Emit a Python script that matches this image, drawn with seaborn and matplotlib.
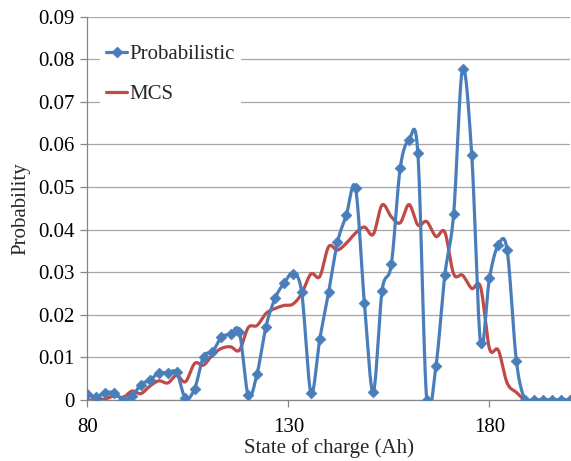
import numpy as np
import pandas as pd
import matplotlib
matplotlib.use("Agg")
import matplotlib.pyplot as plt
import seaborn as sns
from matplotlib.lines import Line2D

# ---- data ----
soc = [80.0, 82.2, 84.4, 86.7, 88.9, 91.1, 93.3, 95.6, 97.8, 100.0,
       102.2, 104.4, 106.7, 108.9, 111.1, 113.3, 115.6, 117.8, 120.0, 122.2,
       124.4, 126.7, 128.9, 131.1, 133.3, 135.6, 137.8, 140.0, 142.2, 144.4,
       146.7, 148.9, 151.1, 153.3, 155.6, 157.8, 160.0, 162.2, 164.4, 166.7,
       168.9, 171.1, 173.3, 175.6, 177.8, 180.0, 182.2, 184.4, 186.7, 188.9,
       191.1, 193.3, 195.6, 197.8, 200.0]
prob_probabilistic = [0.0013, 0.0008, 0.0017, 0.0017, 0.0001, 0.0009, 0.0036, 0.0047, 0.0064, 0.0063,
                      0.0065, 0.0004, 0.0027, 0.0102, 0.0113, 0.0147, 0.0155, 0.0160, 0.0011, 0.0061,
                      0.0172, 0.0239, 0.0274, 0.0296, 0.0253, 0.0017, 0.0143, 0.0253, 0.0370, 0.0434,
                      0.0497, 0.0227, 0.0019, 0.0257, 0.0319, 0.0544, 0.0610, 0.0579, 0.0000, 0.0080,
                      0.0293, 0.0437, 0.0777, 0.0575, 0.0133, 0.0286, 0.0364, 0.0352, 0.0092, 0.0,
                      0.0, 0.0, 0.0, 0.0, 0.0]
prob_mcs = [0.0, 0.0, 0.0002, 0.0010, 0.0006, 0.0021, 0.0015, 0.0033, 0.0045, 0.0040,
            0.0058, 0.0043, 0.0086, 0.0082, 0.0106, 0.0121, 0.0125, 0.0117, 0.0170, 0.0175,
            0.0203, 0.0215, 0.0222, 0.0225, 0.0250, 0.0296, 0.0290, 0.0360, 0.0352, 0.0368,
            0.0392, 0.0406, 0.0389, 0.0458, 0.0430, 0.0416, 0.0459, 0.0411, 0.0419, 0.0384,
            0.0394, 0.0296, 0.0293, 0.0262, 0.0265, 0.0121, 0.0117, 0.0040, 0.0018, 0.0,
            0.0, 0.0, 0.0, 0.0, 0.0]
x_ticks = [80, 130, 180]
y_ticks = [0, 0.01, 0.02, 0.03, 0.04, 0.05, 0.06, 0.07, 0.08, 0.09]
y_tick_labels = ["0", "0.01", "0.02", "0.03", "0.04", "0.05", "0.06", "0.07", "0.08", "0.09"]

BLUE = "#4a7ebb"
RED = "#be4b48"


def excel_smooth(xs, ys, n=30):
    """Bezier smoothing like a spreadsheet 'smoothed line' (Catmull-Rom)."""
    xs = np.asarray(xs, float)
    ys = np.asarray(ys, float)
    px = np.concatenate([[xs[0]], xs, [xs[-1]]])
    py = np.concatenate([[ys[0]], ys, [ys[-1]]])
    t = np.linspace(0, 1, n, endpoint=False)
    ox, oy = [], []
    for i in range(1, len(px) - 2):
        p0x, p1x, p2x, p3x = px[i - 1], px[i], px[i + 1], px[i + 2]
        p0y, p1y, p2y, p3y = py[i - 1], py[i], py[i + 1], py[i + 2]
        c1x, c1y = p1x + (p2x - p0x) / 6, p1y + (p2y - p0y) / 6
        c2x, c2y = p2x - (p3x - p1x) / 6, p2y - (p3y - p1y) / 6
        b0 = (1 - t) ** 3
        b1 = 3 * (1 - t) ** 2 * t
        b2 = 3 * (1 - t) * t ** 2
        b3 = t ** 3
        ox.append(b0 * p1x + b1 * c1x + b2 * c2x + b3 * p2x)
        oy.append(b0 * p1y + b1 * c1y + b2 * c2y + b3 * p2y)
    ox.append([xs[-1]])
    oy.append([ys[-1]])
    return np.concatenate(ox), np.concatenate(oy)


sns.set_theme(style="white")
plt.rcParams["font.family"] = ["Liberation Serif", "DejaVu Serif"]

fig = plt.figure(figsize=(5.71, 4.61), dpi=100)
ax = fig.add_axes([0.153, 0.1323, 0.845, 0.8315])

sx, sy = excel_smooth(soc, prob_probabilistic)
mx, my = excel_smooth(soc, prob_mcs)
df_p = pd.DataFrame({"x": sx, "y": sy})
df_m = pd.DataFrame({"x": mx, "y": my})
df_pts = pd.DataFrame({"x": soc, "y": prob_probabilistic})

sns.lineplot(data=df_p, x="x", y="y", ax=ax, color=BLUE, lw=2.3, sort=False,
             estimator=None, zorder=3)
sns.scatterplot(data=df_pts, x="x", y="y", ax=ax, color=BLUE, marker="D", s=30,
                edgecolor=BLUE, linewidth=0.5, zorder=4)
sns.lineplot(data=df_m, x="x", y="y", ax=ax, color=RED, lw=2.3, sort=False,
             estimator=None, zorder=2)

ax.set_xlim(80, 200)
ax.set_ylim(0, 0.09)
ax.set_xticks(x_ticks)
ax.set_xticklabels([str(v) for v in x_ticks])
ax.set_yticks(y_ticks)
ax.set_yticklabels(y_tick_labels)
ax.grid(axis="y", color="#a6a6a6", lw=0.9)
ax.grid(axis="x", visible=False)
ax.set_axisbelow(True)
for s in ["top", "right"]:
    ax.spines[s].set_visible(False)
for s in ["left", "bottom"]:
    ax.spines[s].set_color("#868686")
    ax.spines[s].set_linewidth(0.9)
ax.tick_params(axis="both", which="major", length=5, width=0.9, color="#868686",
               labelsize=15, labelcolor="black", direction="out",
               left=True, bottom=True, pad=4)
ax.tick_params(axis="x", pad=8)
ax.set_xlabel("State of charge (Ah)", fontsize=15, labelpad=1)
ax.set_ylabel("Probability", fontsize=15, labelpad=6)

handles = [Line2D([0], [0], color=BLUE, lw=2.3, marker="D", markersize=5),
           Line2D([0], [0], color=RED, lw=2.3)]
leg = ax.legend(handles, ["Probabilistic", "MCS"], loc="upper left",
                bbox_to_anchor=(0.005, 0.97), frameon=True, fontsize=15,
                handlelength=1.0, handletextpad=0.1, labelspacing=0.95,
                borderpad=0.3, fancybox=False)
leg.get_frame().set_facecolor("white")
leg.get_frame().set_edgecolor("none")
leg.get_frame().set_alpha(1.0)

fig.savefig("out.png", dpi=100)
